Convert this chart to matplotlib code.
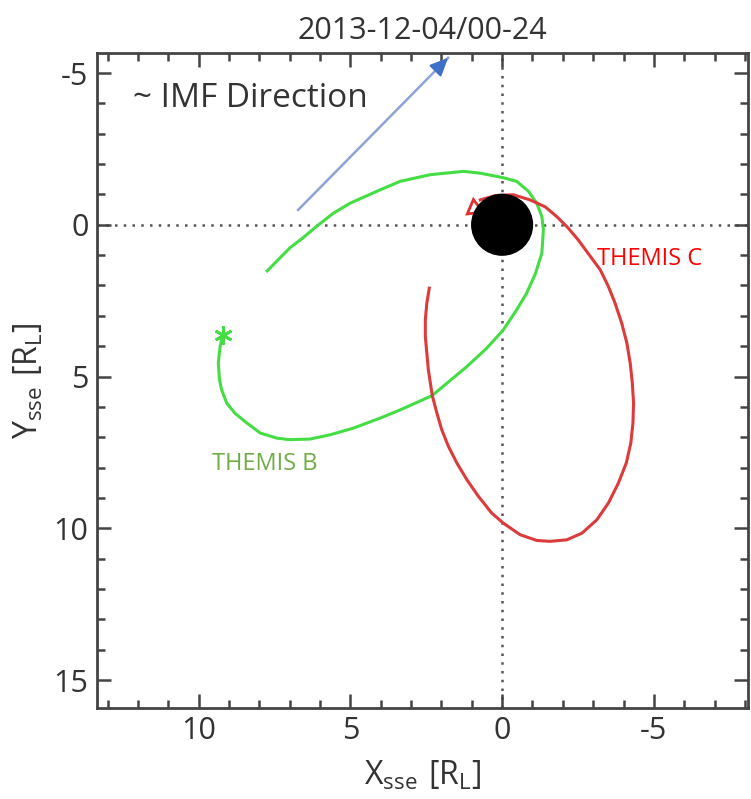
import matplotlib
matplotlib.use("Agg")
import numpy as np
import matplotlib.pyplot as plt
from matplotlib.patches import Circle
from matplotlib.ticker import MultipleLocator

plt.rcParams["font.family"] = ["Open Sans", "DejaVu Sans"]
plt.rcParams["mathtext.default"] = "regular"
plt.rcParams["axes.unicode_minus"] = False

title = "2013-12-04/00-24"

# THEMIS B track in the SSE frame [R_L], starting at the asterisk
themis_b_x = [9.20, 9.29, 9.35, 9.31, 9.24, 9.07, 8.80, 8.41, 7.97, 7.42, 6.99,
              6.33, 5.67, 4.90, 4.02, 3.36, 2.31, 1.16, 0.50, -0.04, -0.48,
              -0.81, -1.10, -1.31, -1.36, -1.31, -1.14, -0.87, -0.48, -0.04,
              0.72, 1.27, 2.37, 3.36, 4.02, 5.01, 5.56, 6.11, 6.56, 6.99, 7.74]
themis_b_y = [3.62, 4.01, 4.56, 5.11, 5.44, 5.88, 6.21, 6.53, 6.86, 7.03, 7.08,
              7.06, 6.92, 6.70, 6.37, 6.10, 5.63, 4.67, 4.06, 3.46, 2.80,
              2.25, 1.60, 0.93, 0.16, -0.27, -0.71, -1.10, -1.43, -1.55,
              -1.70, -1.76, -1.65, -1.43, -1.15, -0.71, -0.38, 0.05, 0.43, 0.76, 1.52]

# THEMIS C track, ending at the direction triangle
themis_c_x = [2.40, 2.48, 2.53, 2.53, 2.48, 2.43, 2.30, 2.15, 1.99, 1.77, 1.49,
              1.16, 0.78, 0.34, -0.04, -0.59, -1.14, -1.58, -2.13, -2.63, -3.12,
              -3.50, -3.83, -4.09, -4.24, -4.31, -4.33, -4.29, -4.22, -4.11, -3.94,
              -3.72, -3.50, -3.23, -2.50, -2.17, -1.81, -1.42, -0.92, -0.36, 0.23,
              0.72]
themis_c_y = [2.09, 2.58, 3.13, 3.68, 4.23, 4.78, 5.63, 6.20, 6.75, 7.30, 7.85,
              8.40, 8.95, 9.50, 9.83, 10.21, 10.40, 10.43, 10.38, 10.16, 9.72,
              9.17, 8.51, 7.85, 7.19, 6.53, 5.87, 5.22, 4.56, 3.90, 3.24,
              2.58, 2.03, 1.48, 0.49, 0.10, -0.26, -0.59, -0.82, -0.99, -0.96,
              -0.82]
themis_c_end = (0.92, -0.55)

imf_tail = (6.72, -0.49)
imf_tip = (1.78, -5.50)

moon_radius = 1.0

fig = plt.figure(figsize=(7.51, 7.99), dpi=100)
ax = fig.add_axes([0.129, 0.1139, 0.867, 0.8198])
ax.set_xlim(13.35, -8.1)
ax.set_ylim(15.92, -5.66)

ax.axhline(0, color="#555555", ls=(0, (1, 2.5)), lw=1.8, zorder=1)
ax.axvline(0, color="#555555", ls=(0, (1, 2.5)), lw=1.8, zorder=1)

ax.plot(themis_b_x, themis_b_y, color="#44dd44", lw=2.2, zorder=2,
        solid_joinstyle="round")
ax.plot(themis_b_x[0], themis_b_y[0], marker=(6, 2, 0), ms=13, mew=2,
        color="#44dd44", zorder=3)

ax.plot(themis_c_x, themis_c_y, color="#dd3b3b", lw=2.2, zorder=2,
        solid_joinstyle="round")
ax.plot(*themis_c_end, marker=(3, 0, 127), ms=13, mew=2, mec="#e03030",
        mfc="white", zorder=3)

ax.add_patch(Circle((0, 0), moon_radius, color="black", zorder=4))

# IMF direction arrow: pale shaft, darker filled head
ax.plot([imf_tail[0], imf_tip[0]], [imf_tail[1], imf_tip[1]],
        color="#8da3d6", lw=1.8, zorder=2)
d = np.subtract(imf_tip, imf_tail)
ax.annotate("", xy=imf_tip, xytext=np.add(imf_tip, -0.08 * d),
            arrowprops=dict(arrowstyle="-|>,head_length=1.1,head_width=0.5",
                            color="#3f6fc6", lw=1.5, shrinkA=0, shrinkB=0),
            zorder=3)

ax.text(12.16, -4.15, "~ IMF Direction", fontsize=24, color="#333333",
        ha="left", va="center")
ax.text(9.56, 8.07, "THEMIS B", fontsize=17, color="#70ad47",
        ha="left", va="baseline")
ax.text(-3.13, 1.32, "THEMIS C", fontsize=17, color="#ff0000",
        ha="left", va="baseline")

ax.set_title(title, fontsize=22, color="#333333", pad=10)
ax.set_xlabel(r"$X_{sse}\ [R_L]$", fontsize=23, color="#333333", labelpad=9)
ax.set_ylabel(r"$Y_{sse}\ [R_L]$", fontsize=23, color="#333333", labelpad=6)

ax.xaxis.set_major_locator(MultipleLocator(5))
ax.xaxis.set_minor_locator(MultipleLocator(1))
ax.yaxis.set_major_locator(MultipleLocator(5))
ax.yaxis.set_minor_locator(MultipleLocator(1))
ax.tick_params(which="both", direction="in", top=True, right=True,
               width=1.8, color="#444444", labelsize=22, labelcolor="#333333",
               pad=6)
ax.tick_params(which="major", length=10)
ax.tick_params(which="minor", length=6)
for s in ax.spines.values():
    s.set_color("#444444")
    s.set_linewidth(2)

fig.savefig("out.png", dpi=100)
